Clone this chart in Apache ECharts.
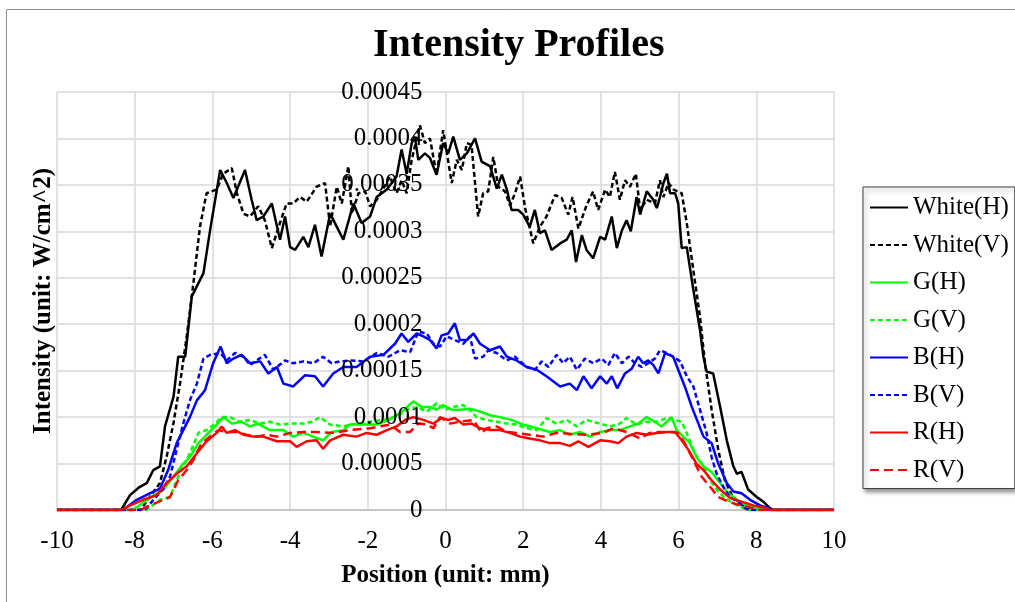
<!DOCTYPE html>
<html>
<head>
<meta charset="utf-8">
<title>Intensity Profiles</title>
<script src="https://cdn.jsdelivr.net/npm/echarts@6/dist/echarts.min.js"></script>
<style>
  html, body { margin: 0; padding: 0; background: #fff; }
  #chart { width: 1015px; height: 602px; }
</style>
</head>
<body>
<div id="chart"></div>
<script>
// values; y is given in units of 1e-5 W/cm^2
const Y_UNIT = 1e-5;
const FONT = "'Liberation Serif', 'Times New Roman', serif";

const xTicks = [-10, 10, 2];            // min, max, step (mm)
const yTicks = [0, 0.00045, 0.00005];   // min, max, step

const whiteH = [[-10,0],[-8.35,0],[-8.12,1.6],[-7.9,2.4],[-7.69,2.9],[-7.52,4.3],[-7.35,4.7],[-7.22,9.0],[-7.0,12.2],[-6.88,16.5],[-6.70,16.5],[-6.53,23.0],[-6.23,25.5],[-6.06,30.1],[-5.80,36.6],[-5.63,35.2],[-5.46,33.6],[-5.16,36.6],[-4.99,33.4],[-4.86,31.2],[-4.69,31.6],[-4.47,33.0],[-4.26,29.1],[-4.13,31.6],[-4.0,28.3],[-3.87,28.0],[-3.66,29.4],[-3.53,28.3],[-3.36,30.7],[-3.19,27.3],[-2.97,31.9],[-2.80,30.5],[-2.63,29.1],[-2.37,33.0],[-2.16,30.9],[-1.94,31.6],[-1.77,33.7],[-1.51,34.5],[-1.26,35.9],[-1.13,38.8],[-1.0,36.2],[-0.87,39.5],[-0.79,40.2],[-0.70,37.7],[-0.53,38.4],[-0.40,37.9],[-0.23,36.1],[-0.06,39.5],[0.07,38.4],[0.20,40.2],[0.37,37.7],[0.55,38.4],[0.76,40.0],[0.93,37.5],[1.15,37.0],[1.32,34.6],[1.45,36.1],[1.58,34.5],[1.70,32.3],[1.87,32.3],[2.00,31.8],[2.17,30.5],[2.30,32.3],[2.43,29.8],[2.56,30.1],[2.73,28.0],[2.95,28.7],[3.12,29.1],[3.25,30.1],[3.36,26.7],[3.51,29.6],[3.63,28.0],[3.80,27.1],[3.98,29.4],[4.11,29.1],[4.28,31.6],[4.41,28.2],[4.54,30.1],[4.66,31.2],[4.77,30.0],[4.92,33.7],[5.01,31.8],[5.18,34.3],[5.35,33.4],[5.44,32.5],[5.52,33.7],[5.61,35.2],[5.70,36.2],[5.78,34.1],[5.91,34.1],[5.99,33.0],[6.08,28.2],[6.21,28.3],[6.38,23.7],[6.55,19.4],[6.64,16.5],[6.72,14.9],[6.89,14.7],[7.07,11.1],[7.24,7.5],[7.41,4.7],[7.50,3.9],[7.62,4.1],[7.79,2.2],[8.01,1.4],[8.18,0.9],[8.35,0.2],[8.45,0],[10,0]];

const whiteV = [[-10,0],[-7.85,0],[-7.61,1.4],[-7.35,2.9],[-7.18,5.7],[-7.0,9.4],[-6.83,13.7],[-6.66,18.7],[-6.49,24.4],[-6.32,30.5],[-6.15,34.1],[-5.89,34.5],[-5.72,36.2],[-5.50,36.8],[-5.37,34.1],[-5.20,31.9],[-5.03,31.6],[-4.82,32.7],[-4.65,31.2],[-4.47,28.2],[-4.26,30.9],[-4.09,33.0],[-3.92,33.0],[-3.75,33.7],[-3.57,33.2],[-3.32,34.8],[-3.10,35.2],[-2.97,30.5],[-2.80,34.8],[-2.67,33.0],[-2.50,37.0],[-2.41,31.9],[-2.24,34.1],[-2.07,34.3],[-1.94,32.7],[-1.77,33.4],[-1.60,34.6],[-1.43,35.9],[-1.26,34.1],[-1.13,35.5],[-1.0,34.1],[-0.87,37.7],[-0.66,41.4],[-0.53,39.5],[-0.40,40.0],[-0.23,36.1],[-0.06,40.9],[0.16,35.2],[0.29,37.7],[0.42,36.6],[0.55,39.5],[0.67,39.3],[0.84,31.6],[0.97,34.1],[1.10,34.3],[1.23,38.0],[1.36,34.8],[1.53,34.3],[1.66,32.8],[1.79,34.1],[1.92,35.9],[2.05,32.5],[2.26,28.7],[2.43,30.5],[2.60,31.6],[2.82,33.9],[2.99,33.6],[3.16,31.8],[3.27,33.7],[3.42,30.3],[3.63,32.8],[3.80,34.3],[3.93,32.3],[4.11,34.5],[4.23,33.7],[4.36,36.4],[4.49,33.4],[4.62,35.5],[4.75,34.8],[4.90,36.2],[5.01,32.3],[5.18,33.4],[5.39,33.0],[5.52,35.5],[5.61,33.7],[5.74,35.2],[5.87,34.5],[6.08,34.1],[6.21,30.9],[6.38,25.8],[6.55,20.8],[6.68,15.8],[6.85,10.8],[7.02,6.5],[7.19,3.2],[7.37,1.6],[7.58,0.7],[7.75,0.2],[7.85,0],[10,0]];

const greenH = [[-10,0],[-8.05,0],[-7.61,1.3],[-7.26,2.2],[-7.0,3.6],[-6.75,5.0],[-6.58,5.7],[-6.36,7.2],[-6.15,8.1],[-5.93,9.0],[-5.72,10.0],[-5.50,9.3],[-5.25,9.5],[-5.03,9.0],[-4.82,9.3],[-4.52,8.6],[-4.17,8.6],[-3.92,7.9],[-3.66,8.3],[-3.40,7.9],[-3.15,7.5],[-2.93,8.4],[-2.63,8.6],[-2.46,9.2],[-2.12,9.2],[-1.77,9.2],[-1.47,9.7],[-1.17,10.4],[-0.83,11.7],[-0.61,11.1],[-0.40,11.1],[-0.23,10.8],[-0.06,11.3],[0.16,10.8],[0.37,10.8],[0.63,10.9],[0.89,10.6],[1.15,10.2],[1.40,10.0],[1.70,9.7],[2.00,9.2],[2.35,8.8],[2.69,8.4],[2.95,8.6],[3.20,8.1],[3.46,8.4],[3.72,7.9],[3.98,8.4],[4.23,8.6],[4.49,8.6],[4.75,9.0],[4.96,9.3],[5.18,10.0],[5.39,9.5],[5.56,9.0],[5.70,9.5],[5.82,10.0],[5.95,8.6],[6.12,7.9],[6.29,7.2],[6.46,5.7],[6.64,4.7],[6.85,4.1],[7.07,2.9],[7.28,1.8],[7.50,1.1],[7.75,0.5],[8.10,0.2],[8.2,0],[10,0]];

const greenV = [[-10,0],[-7.7,0],[-7.35,1.1],[-7.09,1.4],[-6.92,3.2],[-6.75,4.7],[-6.58,6.1],[-6.36,8.3],[-6.15,8.6],[-5.93,9.3],[-5.76,10.0],[-5.55,10.0],[-5.29,9.5],[-5.03,9.7],[-4.77,9.3],[-4.52,9.5],[-4.26,9.2],[-4.0,9.3],[-3.66,9.3],[-3.44,9.5],[-3.23,10.0],[-2.97,9.2],[-2.63,9.0],[-2.29,9.3],[-1.94,9.5],[-1.60,9.7],[-1.26,10.0],[-1.0,10.8],[-0.74,11.1],[-0.48,10.6],[-0.23,11.5],[-0.01,10.8],[0.20,11.1],[0.46,11.3],[0.67,10.6],[0.80,10.0],[1.06,9.7],[1.32,9.5],[1.58,9.3],[1.83,9.2],[2.09,8.8],[2.35,8.6],[2.60,9.9],[2.86,9.3],[3.12,9.7],[3.38,9.0],[3.63,9.7],[3.98,9.3],[4.23,9.0],[4.49,9.3],[4.66,9.9],[4.92,9.2],[5.18,9.5],[5.44,9.5],[5.70,9.9],[5.91,9.7],[6.08,9.5],[6.25,7.9],[6.42,6.1],[6.64,4.7],[6.81,3.2],[6.98,2.2],[7.19,1.3],[7.41,0.7],[7.67,0.2],[7.8,0],[10,0]];

const blueH = [[-10,0],[-8.3,0],[-7.95,1.1],[-7.61,1.8],[-7.35,2.3],[-7.14,4.3],[-6.92,7.2],[-6.75,8.6],[-6.58,10.0],[-6.40,11.8],[-6.19,12.9],[-5.98,15.8],[-5.79,17.6],[-5.63,15.8],[-5.46,16.3],[-5.25,16.7],[-5.03,15.8],[-4.77,16.0],[-4.56,14.7],[-4.34,15.4],[-4.17,13.6],[-3.92,13.3],[-3.62,14.5],[-3.36,14.4],[-3.15,13.3],[-2.89,14.7],[-2.63,15.4],[-2.29,15.4],[-1.94,16.5],[-1.60,16.7],[-1.30,17.9],[-1.13,19.0],[-0.96,18.1],[-0.74,19.0],[-0.57,18.7],[-0.40,18.3],[-0.23,17.4],[-0.10,18.8],[0.07,19.0],[0.24,20.1],[0.37,18.3],[0.55,18.3],[0.72,19.0],[0.89,17.9],[1.15,17.2],[1.40,17.6],[1.58,16.5],[1.83,16.1],[2.09,15.4],[2.35,15.1],[2.60,14.4],[2.95,13.3],[3.20,13.6],[3.38,12.9],[3.55,14.4],[3.76,13.1],[3.98,14.4],[4.15,13.6],[4.28,14.4],[4.42,13.1],[4.62,14.7],[4.79,15.2],[4.96,16.5],[5.09,15.8],[5.22,16.1],[5.35,15.6],[5.48,14.7],[5.65,16.9],[5.86,16.5],[5.99,15.1],[6.16,13.3],[6.34,11.1],[6.51,9.3],[6.64,7.9],[6.85,7.2],[7.02,5.0],[7.24,2.9],[7.41,2.0],[7.62,1.8],[7.84,1.1],[8.10,0.5],[8.31,0.2],[8.4,0],[10,0]];

const blueV = [[-10,0],[-7.75,0],[-7.26,2.3],[-7.09,3.6],[-6.92,6.5],[-6.75,9.3],[-6.58,11.8],[-6.40,13.6],[-6.23,16.3],[-6.06,16.7],[-5.80,16.9],[-5.63,16.1],[-5.42,16.9],[-5.20,16.5],[-5.03,15.6],[-4.86,16.1],[-4.65,16.7],[-4.43,15.1],[-4.13,16.1],[-3.92,15.8],[-3.66,16.0],[-3.40,15.8],[-3.15,16.5],[-2.93,15.8],[-2.72,16.0],[-2.46,16.1],[-2.12,16.0],[-1.77,16.9],[-1.47,16.5],[-1.17,17.2],[-0.91,17.0],[-0.70,19.2],[-0.48,19.0],[-0.31,17.9],[-0.14,17.6],[0.03,18.7],[0.24,18.3],[0.46,17.9],[0.63,18.7],[0.76,16.3],[0.97,16.5],[1.10,17.2],[1.32,16.9],[1.58,16.1],[1.79,16.5],[2.09,15.4],[2.30,15.1],[2.48,16.0],[2.65,15.4],[2.86,16.7],[3.03,15.8],[3.20,16.5],[3.38,15.1],[3.59,16.3],[3.80,15.8],[4.02,16.3],[4.19,15.6],[4.36,16.9],[4.54,15.8],[4.71,16.5],[4.88,15.8],[5.05,15.4],[5.22,15.8],[5.39,16.3],[5.52,17.2],[5.70,16.9],[5.86,16.5],[6.04,16.0],[6.21,14.4],[6.38,13.3],[6.55,10.8],[6.72,8.3],[6.85,5.7],[6.98,3.9],[7.15,2.5],[7.32,1.4],[7.58,0.7],[7.71,0.2],[7.8,0],[10,0]];

const redH = [[-10,0],[-8.35,0],[-8.12,0.5],[-7.78,1.1],[-7.43,1.6],[-7.18,2.9],[-6.92,3.9],[-6.66,4.7],[-6.40,6.1],[-6.15,7.4],[-5.89,8.3],[-5.76,9.0],[-5.63,8.3],[-5.42,8.6],[-5.20,8.1],[-4.95,7.9],[-4.69,7.9],[-4.34,7.4],[-4.0,7.4],[-3.83,6.8],[-3.57,7.4],[-3.32,7.5],[-3.15,6.6],[-2.97,7.5],[-2.63,8.1],[-2.29,7.9],[-2.03,8.3],[-1.77,8.1],[-1.51,8.6],[-1.26,9.0],[-1.04,9.7],[-0.83,10.0],[-0.57,9.7],[-0.31,9.3],[-0.10,9.9],[0.07,9.7],[0.24,9.9],[0.46,9.2],[0.67,9.3],[0.89,8.8],[1.15,8.6],[1.40,8.6],[1.66,8.3],[1.92,7.9],[2.17,7.7],[2.43,7.5],[2.69,7.2],[2.95,7.2],[3.20,6.9],[3.42,7.4],[3.68,6.8],[3.98,7.5],[4.23,7.4],[4.45,7.2],[4.66,7.9],[4.92,8.3],[5.18,8.1],[5.44,8.3],[5.70,8.4],[5.91,8.4],[6.08,7.5],[6.25,6.5],[6.46,5.0],[6.64,4.3],[6.85,3.2],[7.07,2.2],[7.32,1.3],[7.62,0.9],[7.92,0.5],[8.27,0.2],[8.35,0],[10,0]];

const redV = [[-10,0],[-7.85,0],[-7.61,0.5],[-7.26,1.1],[-7.09,1.4],[-6.88,3.2],[-6.66,4.3],[-6.49,5.4],[-6.28,7.2],[-6.06,7.9],[-5.85,8.6],[-5.63,8.4],[-5.37,8.4],[-5.12,8.1],[-4.86,7.9],[-4.60,8.1],[-4.34,7.9],[-4.0,8.3],[-3.66,8.4],[-3.32,8.4],[-2.89,8.3],[-2.46,8.6],[-1.94,8.8],[-1.43,9.2],[-1.17,8.4],[-0.91,8.4],[-0.70,9.3],[-0.48,9.2],[-0.31,8.8],[-0.14,10.0],[0.12,9.3],[0.37,9.5],[0.72,9.7],[0.93,8.3],[1.06,8.8],[1.32,9.0],[1.58,8.4],[1.83,8.3],[2.17,8.1],[2.52,7.9],[2.86,8.3],[3.20,8.2],[3.63,8.1],[4.06,8.3],[4.32,8.8],[4.66,8.4],[5.01,7.7],[5.26,8.3],[5.52,8.4],[5.78,8.4],[5.99,8.3],[6.16,7.2],[6.38,5.4],[6.59,3.6],[6.81,2.5],[7.02,1.4],[7.28,0.9],[7.58,0.5],[7.92,0.2],[8.0,0],[10,0]];

const seriesNames = ['White(H)', 'White(V)', 'G(H)', 'G(V)', 'B(H)', 'B(V)', 'R(H)', 'R(V)'];
const seriesData = [whiteH, whiteV, greenH, greenV, blueH, blueV, redH, redV];
const seriesColors = ['#000000', '#000000', '#00ff00', '#00ff00', '#0000ff', '#0000ff', '#ff0000', '#ff0000'];
const seriesDash = ['solid', [5, 3], 'solid', [5, 3], 'solid', [5, 3], 'solid', [9, 5]];

// plot box in px (grid) – the value axis sits at x = 0, half way across
const PLOT_LEFT = 57, PLOT_WIDTH = 777;

const chart = echarts.init(document.getElementById('chart'), null, { renderer: 'canvas' });

const series = seriesNames.map(function (name, i) {
  return {
    name: name,
    type: 'line',
    data: seriesData[i].map(function (p) { return [p[0], p[1] * Y_UNIT]; }),
    symbol: 'none',
    showSymbol: false,
    animation: false,
    yAxisIndex: 0,
    itemStyle: { color: seriesColors[i] },
    lineStyle: { color: seriesColors[i], width: 2.5, type: seriesDash[i] }
  };
});

function yLabel(v) {
  return v === 0 ? '0' : String(parseFloat(v.toFixed(5)));
}

chart.setOption({
  backgroundColor: '#fff',
  animation: false,
  title: {
    text: 'Intensity Profiles',
    left: 368,
    top: 21,
    textStyle: { fontFamily: FONT, fontSize: 40, fontWeight: 'bold', color: '#000' }
  },
  grid: {
    left: PLOT_LEFT, width: PLOT_WIDTH, top: 92, bottom: 92,
    containLabel: false, outerBoundsMode: 'none'
  },
  legend: {
    orient: 'vertical',
    left: 863,
    top: 187,
    padding: [8, 6, 6, 6],
    itemWidth: 38,
    itemHeight: 14,
    itemGap: 12.5,
    data: seriesNames,
    itemStyle: { opacity: 0 },
    borderColor: '#404040',
    borderWidth: 1,
    backgroundColor: '#fff',
    shadowColor: 'rgba(0,0,0,0.4)',
    shadowBlur: 4,
    shadowOffsetX: 2,
    shadowOffsetY: 3,
    textStyle: { fontFamily: FONT, fontSize: 25, color: '#000', lineHeight: 25 }
  },
  xAxis: {
    type: 'value',
    min: xTicks[0], max: xTicks[1], interval: xTicks[2],
    name: 'Position (unit: mm)',
    nameLocation: 'middle',
    nameGap: 53,
    nameTextStyle: { fontFamily: FONT, fontSize: 25, fontWeight: 'bold', color: '#000' },
    axisLine: { onZero: false, lineStyle: { color: '#bfbfbf', width: 1.5 } },
    axisTick: { show: false },
    axisLabel: { fontFamily: FONT, fontSize: 25, color: '#000', margin: 19 },
    splitLine: { show: true, lineStyle: { color: '#d9d9d9', width: 1.5 } }
  },
  yAxis: [
    {
      // horizontal grid lines (the x = 0 line comes from the x grid)
      type: 'value',
      min: yTicks[0], max: yTicks[1], interval: yTicks[2],
      axisLine: { show: false, onZero: false },
      axisTick: { show: false },
      axisLabel: { show: false },
      splitLine: { show: true, lineStyle: { color: '#d9d9d9', width: 1.5 } }
    },
    {
      // tick labels at x = 0, drawn above the curves like the original
      type: 'value',
      position: 'left',
      offset: -PLOT_WIDTH / 2,
      z: 10,
      min: yTicks[0], max: yTicks[1], interval: yTicks[2],
      axisLine: { show: false, onZero: false },
      axisTick: { show: false },
      splitLine: { show: false },
      axisLabel: { fontFamily: FONT, fontSize: 25, color: '#000', margin: 23, formatter: yLabel }
    },
    {
      // axis title at the left edge of the plot
      type: 'value',
      position: 'left',
      min: yTicks[0], max: yTicks[1],
      name: 'Intensity (unit: W/cm^2)',
      nameLocation: 'middle',
      nameGap: 1,
      nameTextStyle: { fontFamily: FONT, fontSize: 25, fontWeight: 'bold', color: '#000' },
      axisLine: { show: false, onZero: false },
      axisTick: { show: false },
      axisLabel: { show: false },
      splitLine: { show: false }
    }
  ],
  graphic: [{
    type: 'rect',
    silent: true,
    z: -10,
    shape: { x: 6.5, y: 9.5, width: 1100, height: 700 },
    style: { fill: 'none', stroke: '#8c8c8c', lineWidth: 1 }
  }],
  series: series
});

window.onresize = function () { chart.resize(); };
</script>
</body>
</html>
